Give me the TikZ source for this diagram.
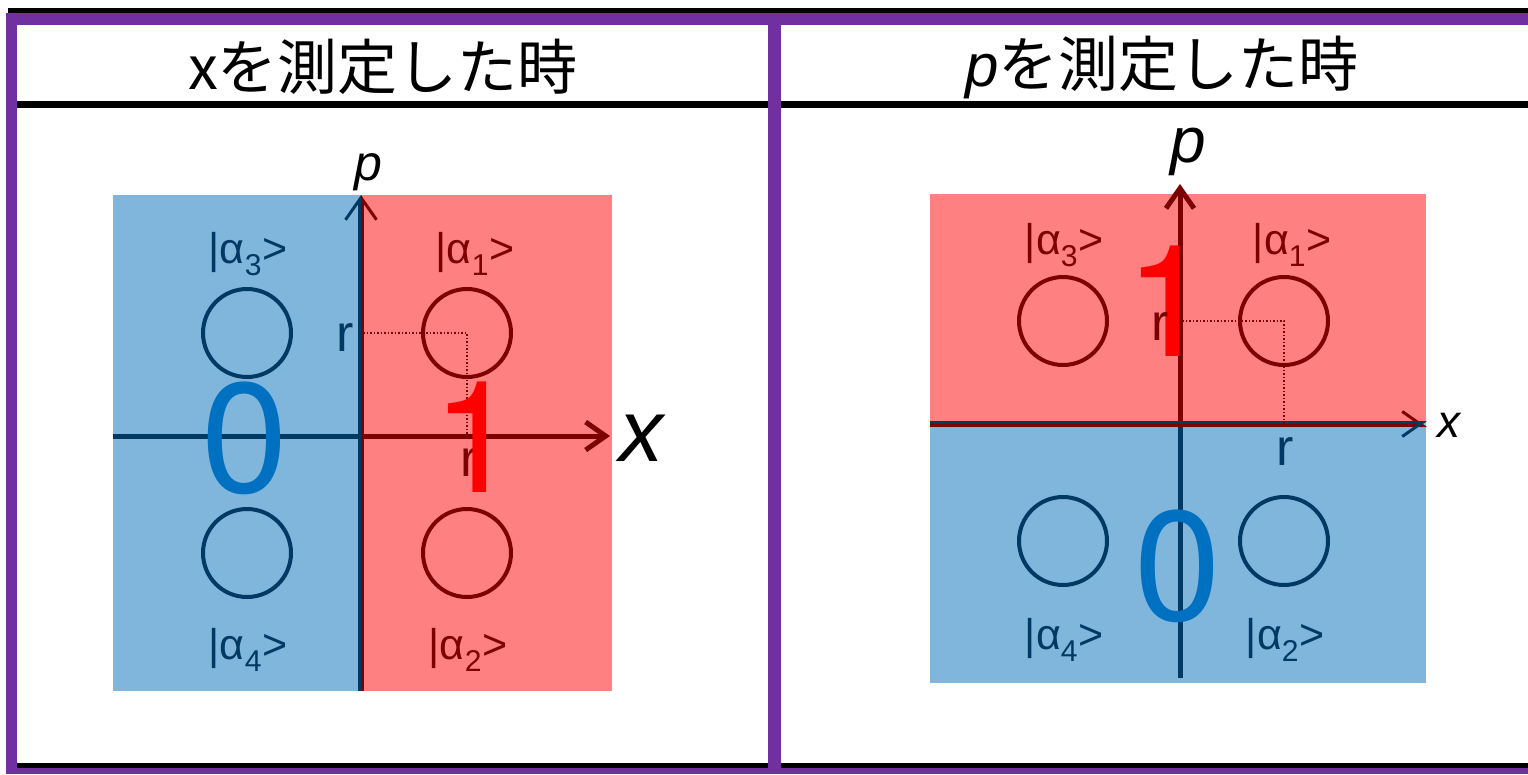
\documentclass[tikz,border=0pt]{standalone}
\usepackage{fontspec}
\setmainfont{Liberation Sans}
\newfontfamily\jpfont{Noto Sans CJK JP}
\newfontfamily\digfont{TeX Gyre Heros}
\usetikzlibrary{arrows.meta}
\definecolor{fillblue}{HTML}{80B5DC}
\definecolor{fillred}{HTML}{FF8080}
\definecolor{dblue}{HTML}{003A64}
\definecolor{dred}{HTML}{7C0000}
\definecolor{bigblue}{HTML}{0070C0}
\definecolor{bigred}{HTML}{FF0000}
\definecolor{purp}{HTML}{7030A0}
\newcommand{\alab}[1]{|α\textsubscript{#1}>}
\begin{document}
\begin{tikzpicture}[x=1pt,y=-1pt,
  lbl/.style={font=\fontsize{43}{46}\selectfont, inner sep=0},
  rlbl/.style={font=\fontsize{52}{56}\selectfont, inner sep=0},
  big/.style={font=\digfont\fontsize{156}{160}\selectfont, inner sep=0},
  ttl/.style={font=\fontsize{60}{64}\selectfont, inner sep=0},
  ring/.style={circle, draw, line width=4pt, minimum size=88pt, inner sep=0},
  tipfull/.style={-{Straight Barb[length=20pt,width=28pt]}},
  tipl/.style={-{Straight Barb[length=20pt,width=28pt,left]}},
  tipr/.style={-{Straight Barb[length=20pt,width=28pt,right]}},
  dots/.style={dred, line width=1.5pt, dotted},
]
\useasboundingbox (0,0) rectangle (1528,774);
% frame
\draw[black, line width=5pt] (8,10) -- (1528,10);
\draw[black, line width=7pt] (17,104) -- (1528,104);
\draw[black, line width=5pt] (17,765.5) -- (1528,765.5);
\draw[purp, line width=12pt] (6,19) -- (1528,19);
\draw[purp, line width=6pt] (6,771) -- (1528,771);
\draw[purp, line width=11pt] (11.5,13) -- (11.5,774);
\draw[purp, line width=13pt] (774.5,13) -- (774.5,774);
% titles
\node[ttl] (t1) at (383,67) {\jpfont xを測定した時};
\node[ttl] (t2) at (1162,67) {{\itshape p}{\jpfont を測定した時}};

% ---------- left panel ----------
\fill[fillblue] (113,195) rectangle (360,691);
\fill[fillred] (360,195) rectangle (612,691);
\coordinate (lxa) at (113,436);
\coordinate (lxo) at (361,436);
\coordinate (lxb) at (610,436);
\coordinate (lyb) at (361,691);
\coordinate (lyt) at (361,195);
\draw[dblue, line width=5pt] (lxa) -- (lxo);
\draw[dred, line width=5pt, tipfull] (lxo) -- (lxb);
\draw[dblue, line width=3pt, tipl] ([xshift=-1.5pt]lyb) -- ([xshift=-1.5pt]lyt);
\draw[dred, line width=3pt, tipr] ([xshift=1.5pt]lyb) -- ([xshift=1.5pt]lyt);
\node[ring, dred] (la1) at (467,333) {};
\node[ring, dblue] (la3) at (247,333) {};
\node[ring, dblue] (la4) at (247,553) {};
\node[ring, dred] (la2) at (467,553) {};
\coordinate (lry) at (363,333);
\coordinate (lrx) at (467,436);
\draw[dots] (lry) -- (la1.center) -- (lrx);
\node[lbl, dred] (l1) at (475,254) {\alab{1}};
\node[lbl, dblue] (l3) at (248,254) {\alab{3}};
\node[lbl, dblue] (l4) at (248,650) {\alab{4}};
\node[lbl, dred] (l2) at (468,650) {\alab{2}};
\node[rlbl, dblue] (lr1) at (345,338) {r};
\node[rlbl, dred] (lr2) at (469,463) {r};
\node[big, bigblue] (l0) at (245,438) {0};
\node[big, bigred] (lone) at (476,437) {1};
\node[font=\fontsize{88}{92}\selectfont\itshape, inner sep=0] (lx) at (641,438) {x};
\node[font=\fontsize{50}{54}\selectfont\itshape, inner sep=0] (lp) at (368,172) {p};

% ---------- right panel ----------
\fill[fillred] (930,194) rectangle (1426,424);
\fill[fillblue] (930,424) rectangle (1426,683);
\coordinate (rxa) at (930,424);
\coordinate (rxb) at (1427,424);
\coordinate (ryb) at (1180,678);
\coordinate (ryo) at (1180,424);
\coordinate (ryt) at (1180,184);
\draw[dblue, line width=5pt] (ryb) -- (ryo);
\draw[dred, line width=5pt, tipfull] (ryo) -- (ryt);
\draw[dred, line width=3pt, tipl] ([yshift=-1.5pt]rxa) -- ([yshift=-1.5pt]rxb);
\draw[dblue, line width=3pt, tipr] ([yshift=1.5pt]rxa) -- ([yshift=1.5pt]rxb);
\node[ring, dred] (ra1) at (1284,321) {};
\node[ring, dred] (ra3) at (1063,321) {};
\node[ring, dblue] (ra4) at (1063,541) {};
\node[ring, dblue] (ra2) at (1284,541) {};
\coordinate (rry) at (1182,321);
\coordinate (rrx) at (1284,424);
\draw[dots] (rry) -- (ra1.center) -- (rrx);
\node[lbl, dred] (r1) at (1292,245) {\alab{1}};
\node[lbl, dred] (r3) at (1064,245) {\alab{3}};
\node[lbl, dblue] (r4) at (1064,640) {\alab{4}};
\node[lbl, dblue] (r2) at (1285,640) {\alab{2}};
\node[big, bigred] (rone) at (1169,301) {1};
\node[rlbl, dred] (rr1) at (1160,327) {r};
\node[rlbl, dblue] (rr2) at (1285,452) {r};
\node[big, bigblue] (r0) at (1178,566) {0};
\node[font=\fontsize{46}{50}\selectfont\itshape, inner sep=0] (rx) at (1449,425) {x};
\node[font=\fontsize{64}{68}\selectfont\itshape, inner sep=0] (rp) at (1188,152) {p};
\end{tikzpicture}
\end{document}
